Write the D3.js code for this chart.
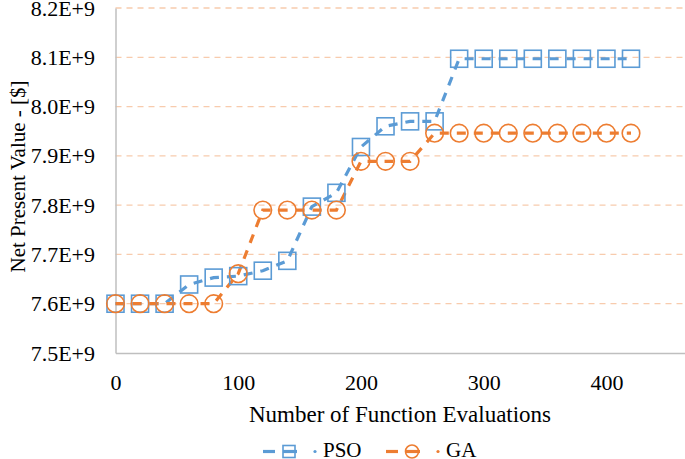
<!DOCTYPE html>
<html><head><meta charset="utf-8">
<script src="https://cdn.jsdelivr.net/npm/d3@7"></script>
<style>body{margin:0;background:#fff}svg{display:block}</style>
</head><body>
<script>
const evals = [0,20,40,60,80,100,120,140,160,180,200,220,240,260,280,300,320,340,360,380,400,420];
const psoValues = [7.6,7.6,7.6,7.639,7.653,7.656,7.667,7.687,7.797,7.825,7.918,7.96,7.97,7.97,8.097,8.097,8.097,8.097,8.097,8.097,8.097,8.097].map(v=>v*1e9);
const gaValues = [7.6,7.6,7.6,7.6,7.6,7.661,7.79,7.79,7.79,7.79,7.889,7.889,7.889,7.946,7.946,7.946,7.946,7.946,7.946,7.946,7.946,7.946].map(v=>v*1e9);
const xTicks = [0,100,200,300,400];
const yTicks = [7.5e9,7.6e9,7.7e9,7.8e9,7.9e9,8.0e9,8.1e9,8.2e9];
const yTickLabels = ["7.5E+9","7.6E+9","7.7E+9","7.8E+9","7.9E+9","8.0E+9","8.1E+9","8.2E+9"];
const seriesNames = ["PSO","GA"];
const colors = ["#5B9BD5","#ED7D31"];

const W=685,H=459;
const svg=d3.select("body").append("svg").attr("width",W).attr("height",H)
  .attr("font-family","Liberation Serif").attr("font-size",22);
const x=d3.scaleLinear().domain([0,464]).range([115.5,685]);
const y=d3.scaleLinear().domain([7.5e9,8.2e9]).range([353,8]);

// gridlines
svg.append("g").selectAll("line").data(yTicks.slice(1)).join("line")
 .attr("x1",115.5).attr("x2",685).attr("y1",d=>y(d)).attr("y2",d=>y(d))
 .attr("stroke","#F8CBAD").attr("stroke-width",1.3).attr("stroke-dasharray","6,5");

// axes
const xAxis=svg.append("g").attr("transform","translate(0,353)")
 .call(d3.axisBottom(x).tickValues(xTicks).tickSize(0).tickPadding(21.5));
xAxis.attr("font-family","Liberation Serif").attr("font-size",22);
xAxis.select(".domain").attr("stroke","#BFBFBF").attr("stroke-width",1.5);
xAxis.selectAll("text").attr("fill","#000");
const yAxis=svg.append("g").attr("transform","translate(115.5,0)")
 .call(d3.axisLeft(y).tickValues(yTicks).tickFormat((d,i)=>yTickLabels[i]).tickSize(0).tickPadding(20.5));
yAxis.attr("font-family","Liberation Serif").attr("font-size",22);
yAxis.select(".domain").attr("stroke","#BFBFBF").attr("stroke-width",1.5);
yAxis.selectAll("text").attr("fill","#000");

// axis titles
svg.append("text").attr("x",400).attr("y",422).attr("text-anchor","middle").attr("font-size",23)
 .text("Number of Function Evaluations");
svg.append("text").attr("transform","translate(25,176.5) rotate(-90)").attr("text-anchor","middle").attr("font-size",21)
 .text("Net Present Value - [$]");

const line=d3.line().x(d=>x(d[0])).y(d=>y(d[1]));
const data=[psoValues,gaValues].map(vals=>evals.map((e,i)=>[e,vals[i]]));

data.forEach((pts,k)=>{
  svg.append("path").datum(pts).attr("d",line).attr("fill","none")
   .attr("stroke",colors[k]).attr("stroke-width",3.2).attr("stroke-dasharray","9,8");
});
// markers
data.forEach((pts,k)=>{
  const g=svg.append("g");
  if(k===0){
    g.selectAll("rect").data(pts).join("rect")
     .attr("x",d=>x(d[0])-8.5).attr("y",d=>y(d[1])-8.5).attr("width",17).attr("height",17)
     .attr("fill","none").attr("stroke",colors[k]).attr("stroke-width",1.6);
  } else {
    g.selectAll("circle").data(pts).join("circle")
     .attr("cx",d=>x(d[0])).attr("cy",d=>y(d[1])).attr("r",8.8)
     .attr("fill","none").attr("stroke",colors[k]).attr("stroke-width",1.6);
  }
});

// legend
const legY=451.5;
const leg=[{x0:263,tx:323},{x0:386,tx:446}];
leg.forEach((L,k)=>{
  const g=svg.append("g");
  g.append("line").attr("x1",L.x0).attr("x2",L.x0+12).attr("y1",legY).attr("y2",legY).attr("stroke",colors[k]).attr("stroke-width",3.2);
  g.append("line").attr("x1",L.x0+20).attr("x2",L.x0+34).attr("y1",legY).attr("y2",legY).attr("stroke",colors[k]).attr("stroke-width",3.2);
  if(k===0) g.append("rect").attr("x",L.x0+20).attr("y",legY-6).attr("width",12).attr("height",12).attr("fill","none").attr("stroke",colors[k]).attr("stroke-width",1.6);
  else g.append("circle").attr("cx",L.x0+26).attr("cy",legY).attr("r",6.5).attr("fill","none").attr("stroke",colors[k]).attr("stroke-width",1.6);
  g.append("circle").attr("cx",L.x0+52).attr("cy",legY).attr("r",1.6).attr("fill",colors[k]);
  g.append("text").attr("x",L.tx).attr("y",456.5).attr("font-size",21).text(seriesNames[k]);
});
</script>
</body></html>
